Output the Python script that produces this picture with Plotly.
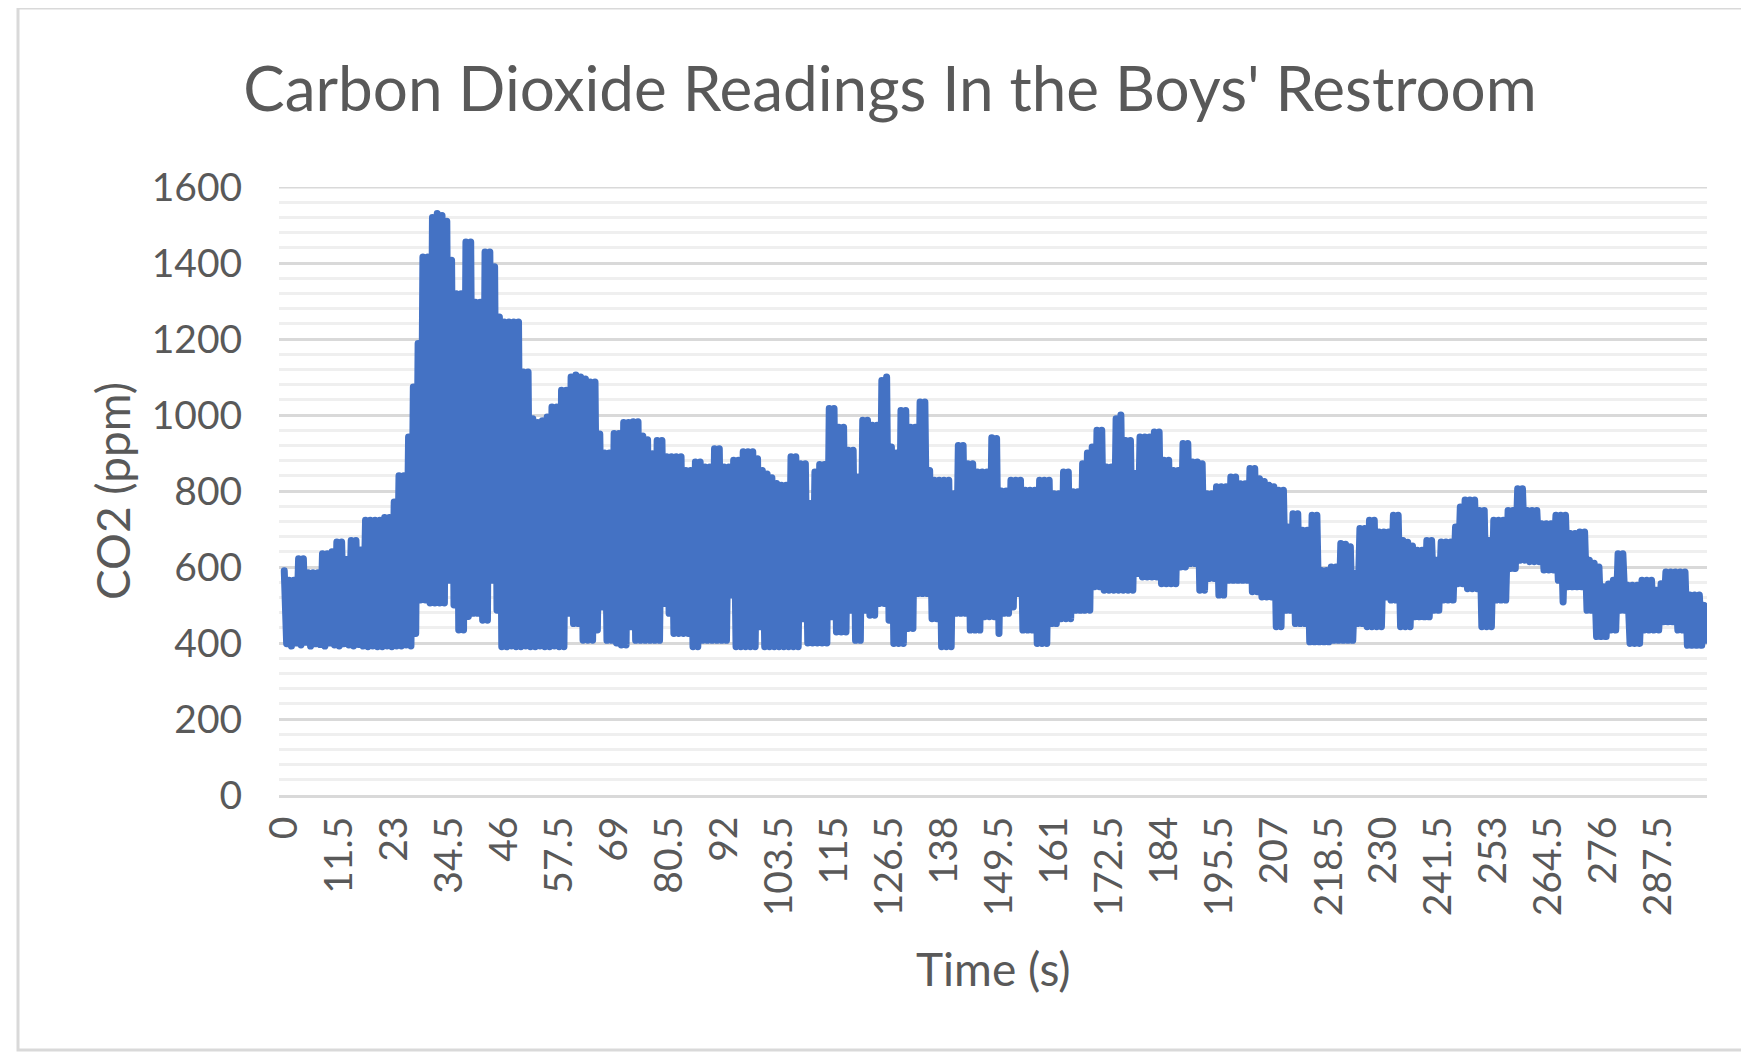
import plotly.graph_objects as go

# ---------------- data ----------------
tick_labels = ["0", "11.5", "23", "34.5", "46", "57.5", "69", "80.5", "92", "103.5",
               "115", "126.5", "138", "149.5", "161", "172.5", "184", "195.5", "207",
               "218.5", "230", "241.5", "253", "264.5", "276", "287.5"]
tick_values = [float(t) for t in tick_labels]

co2_ppm = [
    590, 398, 565, 392, 565, 400, 622, 395, 622, 402, 585, 392, 585, 398, 585, 396, 635, 392, 635, 400, 640, 395, 666, 392,
    666, 398, 620, 395, 670, 392, 670, 396, 645, 392, 723, 390, 723, 392, 723, 390, 723, 390, 730, 392, 730, 390, 771, 392,
    840, 392, 840, 395, 942, 392, 1074, 425, 1188, 513, 1416, 513, 1416, 505, 1520, 505, 1530, 505, 1525, 505, 1510, 565, 1407, 500,
    1319, 434, 1319, 434, 1455, 470, 1455, 478, 1297, 478, 1297, 460, 1429, 460, 1429, 565, 1390, 486, 1258, 390, 1245, 390, 1245, 392,
    1245, 390, 1245, 390, 1113, 392, 1113, 390, 990, 390, 980, 392, 985, 390, 995, 390, 1021, 392, 1021, 390, 1065, 390, 1065, 478,
    1100, 451, 1105, 451, 1100, 407, 1095, 407, 1087, 407, 1087, 434, 950, 495, 900, 407, 900, 407, 951, 400, 951, 395, 980, 395,
    980, 443, 982, 407, 982, 407, 945, 407, 935, 407, 898, 407, 933, 407, 933, 504, 890, 478, 890, 425, 890, 425, 890, 425,
    854, 425, 854, 390, 876, 390, 876, 407, 863, 407, 863, 407, 911, 407, 911, 407, 863, 407, 863, 526, 881, 390, 881, 390,
    903, 390, 903, 390, 903, 390, 885, 443, 854, 390, 845, 390, 835, 390, 820, 390, 815, 390, 815, 390, 890, 390, 890, 390,
    872, 464, 872, 400, 767, 400, 850, 400, 870, 400, 870, 400, 1017, 469, 1017, 429, 968, 429, 968, 429, 907, 486, 907, 407,
    837, 407, 986, 486, 986, 473, 973, 473, 973, 504, 1091, 504, 1100, 460, 916, 399, 900, 399, 1012, 399, 1012, 438, 968, 438,
    968, 530, 1034, 530, 1034, 530, 854, 464, 828, 464, 828, 390, 828, 390, 828, 390, 793, 478, 920, 478, 920, 478, 872, 434,
    872, 434, 850, 434, 850, 469, 850, 469, 940, 469, 938, 425, 800, 478, 800, 478, 828, 495, 828, 530, 828, 434, 802, 434,
    802, 434, 802, 399, 828, 399, 828, 399, 828, 451, 793, 451, 793, 464, 850, 464, 850, 464, 798, 486, 798, 486, 872, 486,
    900, 486, 916, 548, 960, 548, 960, 539, 863, 539, 863, 539, 990, 539, 1000, 539, 933, 539, 933, 539, 846, 583, 942, 574,
    942, 574, 942, 574, 955, 574, 955, 556, 881, 556, 881, 556, 854, 556, 854, 600, 925, 600, 925, 609, 876, 609, 876, 539,
    872, 539, 793, 570, 793, 570, 811, 526, 811, 526, 811, 565, 837, 565, 837, 565, 819, 565, 819, 565, 859, 535, 859, 535,
    832, 521, 825, 521, 815, 521, 811, 443, 802, 443, 802, 486, 705, 486, 740, 451, 740, 451, 697, 451, 697, 403, 736, 403,
    736, 403, 591, 403, 591, 403, 600, 407, 600, 407, 662, 407, 660, 407, 653, 407, 583, 451, 701, 451, 701, 443, 723, 443,
    723, 443, 692, 443, 692, 521, 692, 513, 736, 513, 736, 443, 670, 443, 665, 443, 655, 469, 644, 469, 644, 469, 670, 469,
    670, 486, 618, 486, 666, 513, 666, 513, 666, 513, 705, 556, 758, 556, 776, 543, 776, 543, 776, 543, 749, 443, 749, 443,
    670, 443, 723, 513, 723, 513, 723, 513, 749, 596, 749, 596, 806, 618, 806, 618, 749, 614, 749, 614, 749, 614, 714, 592,
    714, 592, 714, 592, 736, 565, 736, 508, 736, 548, 688, 548, 688, 548, 692, 548, 692, 486, 618, 486, 610, 417, 600, 417,
    548, 417, 555, 434, 565, 434, 635, 486, 635, 486, 552, 399, 552, 399, 552, 399, 565, 434, 565, 434, 565, 434, 539, 434,
    556, 456, 587, 456, 587, 456, 587, 434, 587, 434, 587, 394, 526, 394, 526, 394, 526, 394, 499, 407,
]
time_s = [i * 0.5 for i in range(len(co2_ppm))]

# ---------------- figure ----------------
FONT = "Lato"
GREY_TXT = "#595959"
GRID_MAJOR = "#d9d9d9"

fig = go.Figure()
fig.add_trace(go.Scatter(x=time_s, y=co2_ppm, mode="lines",
                         line=dict(color="#4472C4", width=7), hoverinfo="skip"))

# page body has an 8px margin: figure coordinates = screen coordinates - 8
W, H = 1741, 1045
L, R, T, B = 271, 1699, 179, 787
pw, ph = R - L, B - T

fig.update_layout(
    width=W, height=H,
    margin=dict(l=L, r=W - R, t=T, b=H - B, pad=0),
    paper_bgcolor="white", plot_bgcolor="white",
    showlegend=False,
    font=dict(family=FONT, color=GREY_TXT),
    title=dict(text="Carbon Dioxide Readings In the Boys' Restroom",
               x=882 / W, xanchor="center", xref="container",
               y=1 - 81 / H, yanchor="middle", yref="container",
               font=dict(family=FONT, size=62, color=GREY_TXT)),
)

fig.update_xaxes(
    range=[-1.1, 297.6], tickmode="array", tickvals=tick_values, ticktext=tick_labels,
    tickangle=-90, ticks="outside", ticklen=3, tickcolor="rgba(0,0,0,0)",
    tickfont=dict(family=FONT, size=39, color=GREY_TXT),
    showgrid=False, zeroline=False,
    showline=True, linecolor=GRID_MAJOR, linewidth=3,
)
fig.update_yaxes(
    range=[0, 1600], tickmode="linear", tick0=0, dtick=200,
    ticks="outside", ticklen=28, tickcolor="rgba(0,0,0,0)",
    tickfont=dict(family=FONT, size=39, color=GREY_TXT),
    showgrid=True, gridcolor=GRID_MAJOR, gridwidth=3,
    zeroline=False, showline=False,
    minor=dict(tick0=0, dtick=40, showgrid=True, gridcolor="#efefef", gridwidth=3, ticks=""),
)

# top major gridline (at the range edge, which plotly does not draw itself)
fig.add_shape(type="line", xref="paper", yref="y", x0=0, x1=1, y0=1600, y1=1600,
              line=dict(color=GRID_MAJOR, width=3), layer="below")

fig.add_annotation(text="CO2 (ppm)", textangle=-90, showarrow=False,
                   xref="paper", yref="paper", x=(104 - L) / pw, y=0.5,
                   xanchor="center", yanchor="middle",
                   font=dict(family=FONT, size=46, color=GREY_TXT))
fig.add_annotation(text="Time (s)", showarrow=False,
                   xref="paper", yref="paper", x=(985 - L) / pw, y=(B - 960) / ph,
                   xanchor="center", yanchor="middle",
                   font=dict(family=FONT, size=46, color=GREY_TXT))

# chart-area border
fig.add_shape(type="rect", xref="paper", yref="paper",
              x0=(10 - L) / pw, x1=(1760 - L) / pw,
              y0=(B - 1042) / ph, y1=(B - 0) / ph,
              line=dict(color=GRID_MAJOR, width=3), fillcolor="rgba(0,0,0,0)", layer="below")

round_joins = ("document.querySelectorAll('.scatterlayer .js-line').forEach(function(p){"
               "p.style.strokeLinejoin='round';p.style.strokeLinecap='round';});")

fig.write_html("out.html", post_script=round_joins)
